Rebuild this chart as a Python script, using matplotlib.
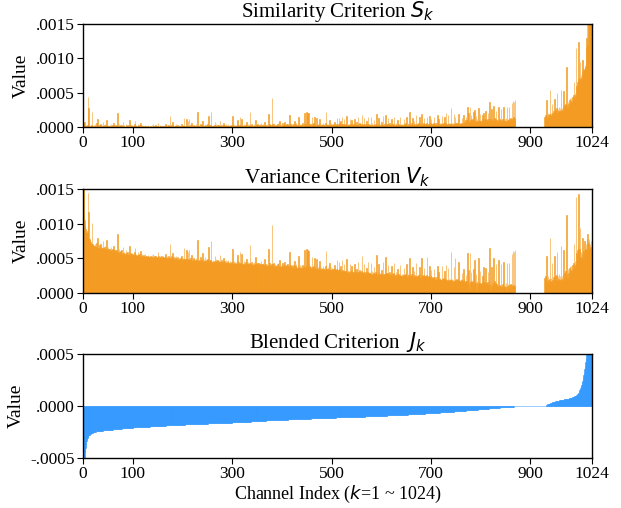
import matplotlib
matplotlib.use("Agg")
import matplotlib.pyplot as plt
from matplotlib.ticker import FuncFormatter

# values, in units of 1e-6, channel k = 1 .. 1024
s_vals = [
    60, 40, 75, 20, 10, 35, 15, 5, 25, 440, 30, 280, 10, 0, 20, 8, 12, 30, 220, 15, 5, 0, 25, 10, 40, 5, 18, 60, 10, 115, 20, 8,
    12, 30, 5, 50, 18, 0, 22, 10, 80, 15, 6, 28, 40, 10, 0, 100, 20, 8, 35, 12, 0, 18, 25, 5, 45, 10, 0, 30, 15, 60, 8, 20,
    10, 25, 0, 15, 30, 210, 12, 5, 40, 18, 0, 22, 8, 35, 10, 0, 70, 12, 25, 5, 15, 0, 50, 20, 8, 30, 12, 0, 18, 100, 10, 22,
    5, 15, 30, 8, 0, 20, 12, 40, 88, 10, 25, 5, 0, 18, 50, 12, 6, 22, 8, 60, 15, 0, 30, 10, 5, 20, 12, 0, 35, 8, 15, 6,
    0, 10, 25, 5, 12, 0, 8, 20, 15, 0, 30, 6, 40, 10, 0, 18, 5, 22, 10, 0, 12, 8, 60, 15, 5, 0, 25, 10, 6, 18, 0, 12,
    20, 8, 0, 15, 30, 50, 10, 5, 25, 12, 0, 35, 18, 8, 160, 15, 5, 28, 10, 0, 70, 12, 20, 6, 0, 25, 15, 40, 8, 12, 30, 10,
    5, 22, 12, 0, 18, 30, 45, 10, 8, 25, 15, 130, 20, 6, 12, 0, 110, 25, 10, 90, 15, 110, 5, 18, 30, 8, 60, 12, 0, 20, 35, 10,
    15, 25, 8, 40, 12, 20, 220, 18, 10, 30, 5, 15, 45, 8, 22, 12, 90, 20, 6, 35, 10, 50, 15, 0, 28, 12, 40, 8, 160, 5, 25, 15,
    30, 220, 12, 20, 8, 35, 15, 10, 25, 70, 12, 40, 18, 5, 30, 10, 22, 8, 15, 90, 20, 12, 35, 6, 18, 28, 60, 10, 25, 15, 8, 40,
    12, 30, 20, 45, 10, 25, 8, 35, 18, 12, 28, 15, 160, 20, 10, 40, 15, 25, 8, 30, 12, 50, 100, 20, 35, 15, 10, 140, 25, 18, 120, 22,
    15, 30, 10, 45, 20, 12, 35, 8, 70, 25, 15, 40, 18, 10, 30, 220, 20, 12, 45, 25, 8, 30, 15, 50, 20, 12, 100, 18, 35, 25, 10, 40,
    20, 35, 12, 25, 40, 15, 60, 28, 10, 30, 45, 18, 22, 80, 15, 35, 25, 10, 40, 20, 30, 190, 25, 45, 15, 30, 20, 35, 420, 40, 25, 50,
    30, 15, 45, 20, 35, 25, 10, 40, 55, 18, 30, 90, 25, 12, 40, 20, 35, 60, 15, 28, 45, 70, 20, 35, 12, 40, 25, 50, 18, 30, 22, 175,
    25, 40, 15, 35, 50, 20, 30, 45, 18, 90, 25, 40, 60, 15, 30, 22, 45, 140, 35, 20, 50, 25, 40, 15, 30, 55, 20, 35, 45, 210, 25, 40,
    60, 225, 35, 210, 45, 200, 30, 50, 25, 40, 35, 20, 140, 45, 30, 55, 25, 140, 40, 20, 35, 130, 50, 25, 45, 30, 60, 110, 35, 20, 45, 30,
    40, 25, 55, 30, 45, 20, 35, 60, 220, 30, 45, 25, 50, 35, 20, 100, 40, 30, 55, 25, 45, 35, 20, 40, 30, 80, 50, 25, 35, 45, 130, 30,
    25, 40, 130, 55, 20, 35, 90, 45, 25, 150, 50, 20, 40, 110, 35, 25, 45, 30, 160, 20, 35, 50, 25, 40, 30, 120, 45, 20, 95, 55, 30, 25,
    40, 30, 120, 55, 35, 25, 70, 45, 30, 140, 40, 35, 60, 25, 45, 30, 50, 180, 35, 25, 40, 130, 30, 20, 45, 35, 90, 25, 50, 150, 40, 20,
    35, 50, 25, 140, 30, 60, 20, 45, 35, 100, 30, 25, 50, 40, 190, 35, 25, 45, 130, 55, 20, 40, 35, 30, 80, 45, 25, 160, 35, 20, 40, 30,
    180, 35, 45, 25, 50, 130, 40, 20, 55, 35, 30, 45, 120, 25, 40, 35, 50, 150, 20, 45, 35, 60, 25, 40, 100, 30, 45, 25, 35, 140, 30, 40,
    30, 45, 25, 50, 35, 110, 40, 25, 55, 30, 150, 35, 20, 50, 40, 30, 215, 45, 35, 25, 60, 40, 130, 50, 25, 90, 45, 35, 30, 170, 40, 25,
    45, 35, 55, 30, 140, 60, 25, 50, 185, 35, 45, 30, 55, 130, 25, 50, 35, 45, 30, 60, 150, 40, 35, 50, 30, 160, 25, 55, 120, 40, 35, 50,
    40, 55, 150, 60, 45, 30, 50, 65, 40, 180, 35, 120, 50, 45, 60, 35, 55, 40, 160, 50, 45, 65, 35, 140, 40, 60, 200, 45, 50, 35, 170, 45,
    55, 40, 60, 45, 270, 50, 65, 35, 55, 45, 190, 40, 150, 55, 45, 65, 40, 55, 70, 195, 50, 45, 60, 40, 65, 55, 130, 50, 60, 170, 70, 55,
    80, 95, 150, 105, 85, 285, 75, 200, 90, 80, 285, 95, 175, 110, 85, 100, 80, 220, 75, 250, 105, 85, 160, 80, 110, 90, 75, 270, 100, 85, 190, 90,
    105, 80, 115, 180, 100, 200, 85, 110, 95, 240, 80, 105, 90, 115, 200, 85, 130, 365, 95, 110, 90, 260, 105, 85, 115, 300, 100, 130, 90, 110, 230, 105,
    100, 75, 95, 290, 80, 110, 70, 100, 260, 85, 95, 120, 75, 290, 100, 85, 110, 90, 130, 80, 290, 95, 105, 120, 85, 290, 110, 95, 130, 100, 120, 350,
    120, 380, 140, 360, 130, 400, 0, 0, 0, 0, 0, 0, 0, 0, 0, 0, 0, 0, 0, 0, 0, 0, 0, 0, 0, 0, 0, 0, 0, 0, 0, 0,
    0, 0, 0, 0, 0, 0, 0, 0, 0, 0, 0, 0, 0, 0, 0, 0, 0, 0, 0, 0, 0, 0, 0, 0, 0, 0, 0, 0, 0, 0, 0, 0,
    150, 120, 180, 140, 390, 160, 130, 210, 170, 140, 190, 545, 160, 210, 180, 340, 200, 170, 230, 210, 405, 190, 250, 220, 270, 490, 210, 260, 240, 290, 230, 270,
    230, 545, 250, 280, 230, 300, 525, 260, 320, 270, 340, 300, 870, 320, 280, 370, 330, 310, 390, 415, 360, 420, 380, 350, 440, 400, 470, 655, 420, 500, 460, 1145,
    600, 560, 650, 700, 1235, 620, 720, 950, 680, 760, 720, 800, 975, 780, 850, 820, 830, 900, 880, 1150, 1300, 1600, 1190, 1800, 1650, 1900, 2000, 1850, 2100, 2300, 2200, 2500,
]

v_vals = [
    1600, 1500, 1050, 980, 920, 890, 870, 860, 900, 1440, 840, 1175, 800, 780, 760, 740, 720, 710, 1005, 700, 690, 680, 690, 675, 700, 665, 670, 720, 660, 800, 655, 650,
    667, 690, 653, 714, 667, 640, 669, 650, 746, 653, 638, 667, 682, 638, 622, 760, 646, 627, 663, 629, 610, 633, 641, 611, 665, 614, 598, 638, 615, 676, 601, 616,
    600, 620, 583, 603, 622, 850, 594, 583, 630, 598, 571, 600, 579, 616, 579, 564, 660, 578, 594, 565, 577, 555, 623, 580, 561, 591, 564, 546, 569, 683, 555, 571,
    543, 556, 577, 545, 534, 561, 549, 588, 654, 545, 565, 536, 529, 553, 598, 544, 534, 557, 536, 609, 545, 523, 565, 536, 529, 549, 537, 520, 568, 530, 539, 525,
    516, 530, 550, 522, 531, 514, 524, 541, 533, 512, 553, 519, 567, 524, 510, 534, 516, 539, 522, 507, 524, 518, 590, 527, 512, 505, 539, 518, 511, 528, 502, 519,
    528, 510, 499, 519, 539, 566, 510, 502, 529, 511, 493, 541, 517, 502, 714, 510, 496, 527, 501, 487, 584, 502, 513, 492, 483, 517, 503, 537, 491, 497, 521, 492,
    483, 506, 492, 474, 499, 515, 535, 486, 482, 506, 491, 651, 497, 476, 485, 467, 620, 501, 479, 591, 485, 617, 470, 487, 504, 472, 544, 477, 459, 487, 507, 471,
    478, 491, 467, 511, 472, 482, 761, 478, 466, 494, 458, 471, 513, 460, 480, 465, 573, 475, 454, 495, 459, 514, 465, 443, 482, 459, 497, 452, 664, 447, 474, 459,
    479, 744, 453, 463, 446, 483, 454, 447, 467, 530, 448, 486, 455, 436, 471, 442, 458, 438, 447, 552, 453, 441, 473, 431, 448, 461, 505, 435, 455, 441, 430, 474,
    434, 458, 444, 478, 429, 449, 424, 462, 437, 429, 450, 431, 634, 437, 423, 464, 428, 442, 417, 448, 422, 474, 544, 431, 452, 423, 415, 597, 435, 425, 567, 429,
    419, 439, 411, 459, 424, 412, 443, 405, 491, 428, 413, 447, 416, 404, 432, 697, 416, 405, 450, 422, 397, 427, 406, 454, 412, 400, 522, 407, 430, 416, 394, 435,
    408, 428, 396, 413, 433, 398, 460, 415, 389, 416, 437, 398, 404, 484, 392, 420, 405, 383, 425, 396, 410, 633, 401, 429, 386, 407, 392, 412, 985, 418, 396, 431,
    403, 381, 423, 387, 408, 393, 371, 413, 433, 380, 397, 480, 389, 370, 408, 380, 400, 435, 371, 388, 412, 446, 376, 396, 363, 402, 380, 415, 369, 385, 374, 587,
    377, 397, 362, 389, 409, 367, 380, 401, 362, 463, 371, 391, 419, 355, 376, 364, 395, 528, 380, 359, 400, 364, 385, 349, 370, 404, 354, 375, 388, 619, 359, 379,
    409, 639, 373, 617, 385, 602, 363, 391, 355, 375, 368, 346, 514, 380, 358, 393, 350, 510, 370, 341, 362, 494, 381, 346, 373, 352, 393, 462, 357, 335, 370, 348,
    363, 341, 383, 347, 367, 332, 352, 387, 610, 343, 364, 335, 370, 348, 326, 438, 353, 339, 373, 330, 358, 343, 322, 349, 334, 404, 361, 326, 339, 352, 471, 330,
    304, 325, 450, 345, 295, 316, 392, 329, 300, 475, 334, 292, 319, 417, 311, 297, 324, 303, 484, 288, 308, 329, 293, 314, 299, 425, 319, 284, 388, 332, 296, 289,
    310, 295, 421, 329, 301, 286, 349, 313, 292, 445, 305, 297, 332, 282, 310, 288, 316, 540, 294, 279, 300, 425, 285, 270, 305, 290, 367, 275, 310, 449, 295, 266,
    288, 309, 273, 434, 279, 321, 264, 299, 284, 375, 276, 269, 303, 289, 550, 281, 266, 294, 412, 307, 257, 285, 277, 270, 339, 290, 261, 450, 274, 253, 280, 266,
    520, 274, 288, 259, 294, 405, 278, 250, 298, 270, 262, 282, 387, 253, 274, 266, 286, 426, 243, 278, 263, 297, 248, 268, 352, 253, 273, 245, 258, 405, 250, 263,
    251, 271, 243, 277, 255, 360, 261, 239, 281, 245, 412, 251, 229, 270, 256, 241, 499, 261, 246, 231, 280, 251, 376, 264, 228, 318, 255, 240, 232, 428, 245, 223,
    252, 237, 264, 229, 382, 269, 219, 253, 505, 231, 244, 222, 256, 361, 213, 247, 225, 239, 217, 258, 515, 228, 221, 241, 212, 393, 203, 245, 335, 222, 214, 235,
    198, 218, 351, 224, 202, 181, 208, 228, 193, 388, 184, 303, 204, 196, 217, 181, 208, 187, 390, 199, 192, 219, 176, 323, 182, 209, 405, 187, 193, 172, 360, 184,
    199, 177, 205, 183, 585, 189, 209, 166, 194, 179, 381, 171, 500, 190, 176, 203, 167, 188, 208, 450, 179, 171, 191, 163, 197, 182, 287, 174, 187, 341, 200, 178,
    138, 160, 260, 175, 145, 570, 130, 330, 150, 60, 580, 155, 300, 180, 140, 165, 70, 350, 120, 480, 170, 140, 280, 45, 175, 150, 120, 500, 160, 135, 320, 145,
    150, 110, 160, 250, 140, 380, 115, 155, 130, 360, 35, 145, 120, 160, 300, 110, 185, 650, 125, 50, 115, 380, 140, 105, 155, 500, 130, 180, 30, 145, 420, 135,
    110, 80, 100, 470, 85, 120, 25, 105, 420, 90, 100, 130, 40, 450, 100, 85, 120, 90, 140, 30, 430, 95, 105, 125, 75, 440, 110, 20, 130, 95, 120, 560,
    90, 600, 110, 590, 95, 620, 0, 0, 0, 0, 0, 0, 0, 0, 0, 0, 0, 0, 0, 0, 0, 0, 0, 0, 0, 0, 0, 0, 0, 0, 0, 0,
    0, 0, 0, 0, 0, 0, 0, 0, 0, 0, 0, 0, 0, 0, 0, 0, 0, 0, 0, 0, 0, 0, 0, 0, 0, 0, 0, 0, 0, 0, 0, 0,
    210, 166, 246, 182, 527, 196, 145, 250, 189, 141, 207, 800, 155, 220, 173, 440, 193, 149, 228, 195, 535, 162, 242, 196, 265, 585, 172, 240, 209, 277, 187, 242,
    182, 680, 206, 246, 172, 269, 625, 208, 289, 217, 312, 253, 1130, 276, 218, 342, 283, 252, 363, 395, 313, 395, 334, 287, 407, 346, 440, 705, 359, 465, 401, 1380,
    580, 512, 626, 678, 1430, 520, 635, 945, 516, 591, 494, 561, 800, 520, 600, 480, 750, 560, 640, 700, 620, 780, 850, 690, 720, 775, 640, 700, 660, 750, 620, 680,
]

j_vals = [
    -620, -560, -500, -450, -405, -370, -340, -318, -305, -295, -288, -283, -278, -274, -270, -267, -264, -261, -259, -257, -255, -253, -251, -249, -247, -246, -245, -244, -243, -242, -241, -240,
    -239, -239, -238, -238, -237, -237, -236, -236, -235, -235, -234, -234, -233, -233, -232, -232, -231, -231, -230, -230, -229, -229, -228, -228, -227, -227, -226, -226, -225, -225, -224, -224,
    -223, -223, -222, -222, -221, -221, -220, -220, -219, -219, -218, -218, -217, -217, -216, -216, -215, -215, -214, -214, -213, -213, -212, -212, -211, -211, -210, -210, -209, -209, -208, -208,
    -208, -208, -207, -207, -207, -206, -206, -206, -205, -205, -205, -204, -204, -204, -204, -203, -203, -203, -202, -202, -202, -201, -201, -201, -201, -200, -200, -200, -199, -199, -199, -199,
    -198, -198, -198, -197, -197, -197, -196, -196, -196, -196, -195, -195, -195, -194, -194, -194, -194, -193, -193, -193, -192, -192, -192, -192, -191, -191, -191, -190, -190, -190, -190, -189,
    -189, -189, -188, -188, -188, -188, -187, -187, -187, -186, -186, -186, -186, -185, -185, -185, -184, -184, -184, -184, -183, -183, -183, -183, -182, -182, -182, -181, -181, -181, -181, -180,
    -180, -180, -180, -180, -179, -179, -179, -179, -179, -178, -178, -178, -178, -178, -177, -177, -177, -177, -177, -176, -176, -176, -176, -176, -175, -175, -175, -175, -175, -174, -174, -174,
    -174, -174, -173, -173, -173, -173, -173, -172, -172, -172, -172, -172, -171, -171, -171, -171, -171, -170, -170, -170, -170, -170, -169, -169, -169, -169, -169, -168, -168, -168, -168, -168,
    -167, -167, -167, -167, -167, -166, -166, -166, -166, -166, -165, -165, -165, -165, -165, -164, -164, -164, -164, -164, -163, -163, -163, -163, -163, -162, -162, -162, -162, -162, -161, -161,
    -161, -161, -161, -160, -160, -160, -160, -160, -159, -159, -159, -159, -158, -158, -158, -158, -157, -157, -157, -157, -156, -156, -156, -156, -155, -155, -155, -155, -154, -154, -154, -154,
    -153, -153, -153, -152, -152, -152, -152, -151, -151, -151, -150, -150, -150, -150, -149, -149, -149, -148, -148, -148, -148, -147, -147, -147, -146, -146, -146, -146, -145, -145, -145, -144,
    -144, -144, -144, -143, -143, -143, -142, -142, -142, -142, -141, -141, -141, -140, -140, -140, -140, -139, -139, -139, -138, -138, -138, -138, -137, -137, -137, -137, -136, -136, -136, -136,
    -135, -135, -135, -135, -134, -134, -134, -134, -134, -133, -133, -133, -133, -133, -132, -132, -132, -132, -132, -131, -131, -131, -131, -131, -130, -130, -130, -130, -130, -129, -129, -129,
    -129, -129, -128, -128, -128, -128, -128, -127, -127, -127, -127, -127, -126, -126, -126, -126, -126, -125, -125, -125, -125, -125, -124, -124, -124, -124, -124, -123, -123, -123, -123, -123,
    -122, -122, -122, -122, -122, -121, -121, -121, -121, -121, -120, -120, -120, -120, -120, -119, -119, -119, -119, -119, -118, -118, -118, -118, -118, -117, -117, -117, -117, -117, -116, -116,
    -116, -116, -116, -115, -115, -115, -115, -115, -114, -114, -114, -114, -114, -113, -113, -113, -113, -113, -112, -112, -112, -112, -112, -111, -111, -111, -111, -111, -110, -110, -110, -110,
    -110, -110, -109, -109, -109, -109, -109, -109, -108, -108, -108, -108, -108, -108, -107, -107, -107, -107, -107, -107, -106, -106, -106, -106, -106, -106, -105, -105, -105, -105, -105, -105,
    -104, -104, -104, -104, -104, -104, -103, -103, -103, -103, -103, -103, -102, -102, -102, -102, -102, -102, -101, -101, -101, -101, -101, -101, -100, -100, -100, -100, -100, -100, -99, -99,
    -99, -99, -99, -99, -98, -98, -98, -98, -98, -97, -97, -97, -97, -97, -96, -96, -96, -96, -96, -95, -95, -95, -95, -94, -94, -94, -94, -94, -93, -93, -93, -93,
    -92, -92, -92, -92, -91, -91, -91, -91, -91, -90, -90, -90, -90, -89, -89, -89, -89, -88, -88, -88, -88, -87, -87, -87, -87, -86, -86, -86, -86, -85, -85, -85,
    -85, -84, -84, -84, -84, -83, -83, -83, -83, -82, -82, -82, -82, -81, -81, -81, -81, -80, -80, -80, -80, -79, -79, -79, -79, -78, -78, -78, -78, -77, -77, -77,
    -76, -76, -76, -75, -75, -75, -75, -74, -74, -74, -73, -73, -73, -73, -72, -72, -72, -71, -71, -71, -71, -70, -70, -70, -69, -69, -69, -69, -68, -68, -68, -67,
    -67, -67, -66, -66, -66, -65, -65, -65, -64, -64, -64, -63, -63, -63, -62, -62, -62, -61, -61, -61, -60, -60, -60, -59, -59, -59, -58, -58, -58, -57, -57, -57,
    -56, -56, -56, -55, -55, -54, -54, -54, -53, -53, -53, -52, -52, -51, -51, -51, -50, -50, -49, -49, -49, -48, -48, -48, -47, -47, -46, -46, -46, -45, -45, -44,
    -44, -44, -43, -43, -42, -42, -42, -41, -41, -40, -40, -40, -39, -39, -38, -38, -37, -37, -37, -36, -36, -35, -35, -35, -34, -34, -33, -33, -32, -32, -32, -31,
    -31, -30, -30, -29, -29, -28, -28, -27, -27, -26, -26, -25, -25, -25, -24, -24, -23, -23, -22, -22, -21, -21, -21, -20, -20, -19, -19, -19, -18, -18, -17, -17,
    -17, -16, -16, -15, -15, -15, -14, -14, -13, -13, -13, -12, -12, -11, -11, -11, -10, -10, -10, -9, -9, -9, -8, -8, -8, -7, -7, -7, -6, -6, -6, -5,
    -5, -5, -5, -4, -4, -4, -3, -3, -3, -3, -2, -2, -2, -2, -2, -1, -1, -1, -1, -1, -1, -1, -1, -1, 0, 0, 0, 0, 0, 0, 0, 0,
    0, 0, 0, 0, 0, 0, 0, 0, 0, 0, 0, 0, 0, 0, 0, 0, 0, 0, 0, 0, 0, 0, 0, 0, 0, 0, 0, 0, 0, 0, 0, 0,
    0, 1, 3, 6, 9, 12, 15, 18, 20, 22, 24, 26, 28, 30, 32, 34, 35, 36, 38, 40, 41, 42, 44, 45, 46, 48, 49, 50, 51, 52, 54, 55,
    56, 57, 58, 59, 60, 61, 62, 63, 64, 65, 66, 67, 68, 69, 70, 71, 72, 73, 74, 75, 77, 78, 80, 82, 84, 86, 88, 90, 92, 95, 98, 101,
    105, 110, 115, 122, 130, 140, 150, 162, 175, 190, 206, 224, 245, 268, 294, 322, 352, 385, 420, 460, 505, 555, 610, 670, 740, 820, 900, 990, 1100, 1220, 1350, 1500,
]

titles = ["Similarity Criterion $S_k$", "Variance Criterion $V_k$", "Blended Criterion  $J_k$"]
x_ticks = [0, 100, 300, 500, 700, 900, 1024]

orange = "#f39a1e"
blue = "#3399ff"
serif = "Liberation Serif"

channels = list(range(len(j_vals)))


def short_fmt(v, pos):
    txt = "%.4f" % v
    if txt.startswith("-0"):
        return "-" + txt[2:]
    if txt.startswith("0"):
        return txt[1:]
    return txt


fig = plt.figure(figsize=(6.21, 5.08), dpi=100)
boxes = [[0.1337, 0.750, 0.8196, 0.2028],
         [0.1337, 0.4232, 0.8196, 0.2047],
         [0.1337, 0.0984, 0.8196, 0.2047]]
series = [s_vals, v_vals, j_vals]
colors = [orange, orange, blue]
limits = [(0, 0.0015), (0, 0.0015), (-0.0005, 0.0005)]
yticks = [[0, 0.0005, 0.0010, 0.0015], [0, 0.0005, 0.0010, 0.0015], [-0.0005, 0, 0.0005]]

for i in range(3):
    ax = fig.add_axes(boxes[i])
    vals = [v * 1e-6 for v in series[i]]
    ax.bar(channels, vals, width=1.0, align="edge", color=colors[i],
           edgecolor=colors[i], linewidth=0.4)
    ax.set_xlim(0, 1024)
    ax.set_ylim(*limits[i])
    ax.set_xticks(x_ticks)
    ax.set_yticks(yticks[i])
    ax.yaxis.set_major_formatter(FuncFormatter(short_fmt))
    ax.tick_params(direction="out", length=4, width=0.8, labelsize=12.5, pad=2)
    for lab in ax.get_xticklabels() + ax.get_yticklabels():
        lab.set_fontfamily(serif)
    for sp in ax.spines.values():
        sp.set_linewidth(1.0)
        sp.set_zorder(3)
    ax.set_title(titles[i], fontsize=15, fontfamily=serif, pad=3)
    ax.set_ylabel("Value", fontsize=14, fontfamily=serif, labelpad=4)
    if i == 2:
        ax.set_xlabel("Channel Index ($k$=1 ~ 1024)", fontsize=13, fontfamily=serif, labelpad=1)

fig.savefig("out.png", dpi=100)
